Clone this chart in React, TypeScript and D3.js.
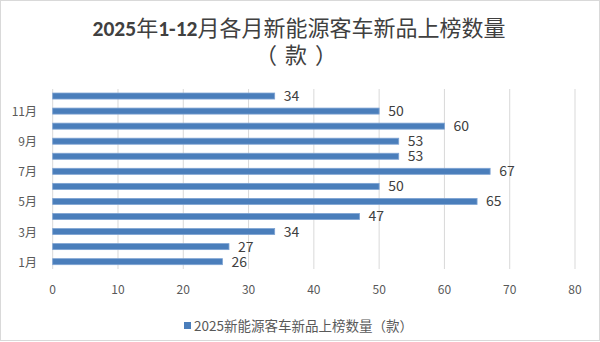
import React from "react";
import * as d3 from "d3";

const months = ["1月", "2月", "3月", "4月", "5月", "6月", "7月", "8月", "9月", "10月", "11月", "12月"];
const values = [26, 27, 34, 47, 65, 50, 67, 53, 53, 60, 50, 34];
const shownMonthLabels = ["1月", "3月", "5月", "7月", "9月", "11月"];
const xTicks = [0, 10, 20, 30, 40, 50, 60, 70, 80];
const titleParts = ["2025", "年", "1-12", "月各月新能源客车新品上榜数量"];
const subtitleParts = ["（", "款", "）"];
const legendLabel = "2025新能源客车新品上榜数量（款）";

const W = 600;
const H = 342;
const CJK = "'Noto Sans CJK SC', 'Noto Sans', sans-serif";
const LATIN_BOLD = "Carlito, Calibri, 'Liberation Sans', sans-serif";

export default function App() {
  const x = d3.scaleLinear().domain([0, 80]).range([52.7, 575]);
  const y = d3
    .scaleBand<string>()
    .domain([...months].reverse())
    .range([88.5, 269.2])
    .paddingInner(0.6)
    .paddingOuter(0.3);
  const bw = y.bandwidth();
  const subX = [266, 296, 326];

  return (
    <svg
      width={W}
      height={H}
      style={{ position: "absolute", left: 0, top: 0, background: "#fff" }}
      fontFamily={CJK}
    >
      <rect x={0.5} y={0.5} width={W - 1} height={H - 2} fill="#fff" stroke="#d9d9d9" />
      <text x={299} y={35.5} textAnchor="middle" fill="#404040">
        {titleParts.map((p, i) =>
          i % 2 === 0 ? (
            <tspan key={i} fontFamily={LATIN_BOLD} fontWeight="bold" fontSize={21.5}>
              {p}
            </tspan>
          ) : (
            <tspan key={i} fontFamily={CJK} fontWeight={400} fontSize={22}>
              {p}
            </tspan>
          )
        )}
      </text>
      {subtitleParts.map((p, i) => (
        <text key={i} x={subX[i]} y={62.5} textAnchor="middle" fontSize={22} fill="#404040">
          {p}
        </text>
      ))}
      {xTicks.map((t) => (
        <g key={t}>
          <line x1={x(t)} x2={x(t)} y1={89} y2={269} stroke="#d9d9d9" strokeWidth={1} />
          <text x={x(t)} y={294} textAnchor="middle" fontSize={12} fill="#595959">
            {t}
          </text>
        </g>
      ))}
      {months.map((m, i) => {
        const yy = y(m)!;
        return (
          <g key={m}>
            <rect
              x={x(0)}
              y={yy}
              width={x(values[i]) - x(0)}
              height={bw}
              fill="#4a7ebb"
              stroke="#7ea3d3"
              strokeWidth={0.8}
            />
            <text x={x(values[i]) + 9} y={yy + bw / 2 + 5} fontSize={14} fill="#404040">
              {values[i]}
            </text>
            {shownMonthLabels.includes(m) && (
              <text x={37} y={yy + bw / 2 + 5} textAnchor="end" fontSize={12} fill="#595959">
                {m}
              </text>
            )}
          </g>
        );
      })}
      <rect x={184} y={322} width={7} height={7} fill="#4a7ebb" />
      <text x={194} y={331} fontSize={13.5} fill="#595959">
        {legendLabel}
      </text>
    </svg>
  );
}
